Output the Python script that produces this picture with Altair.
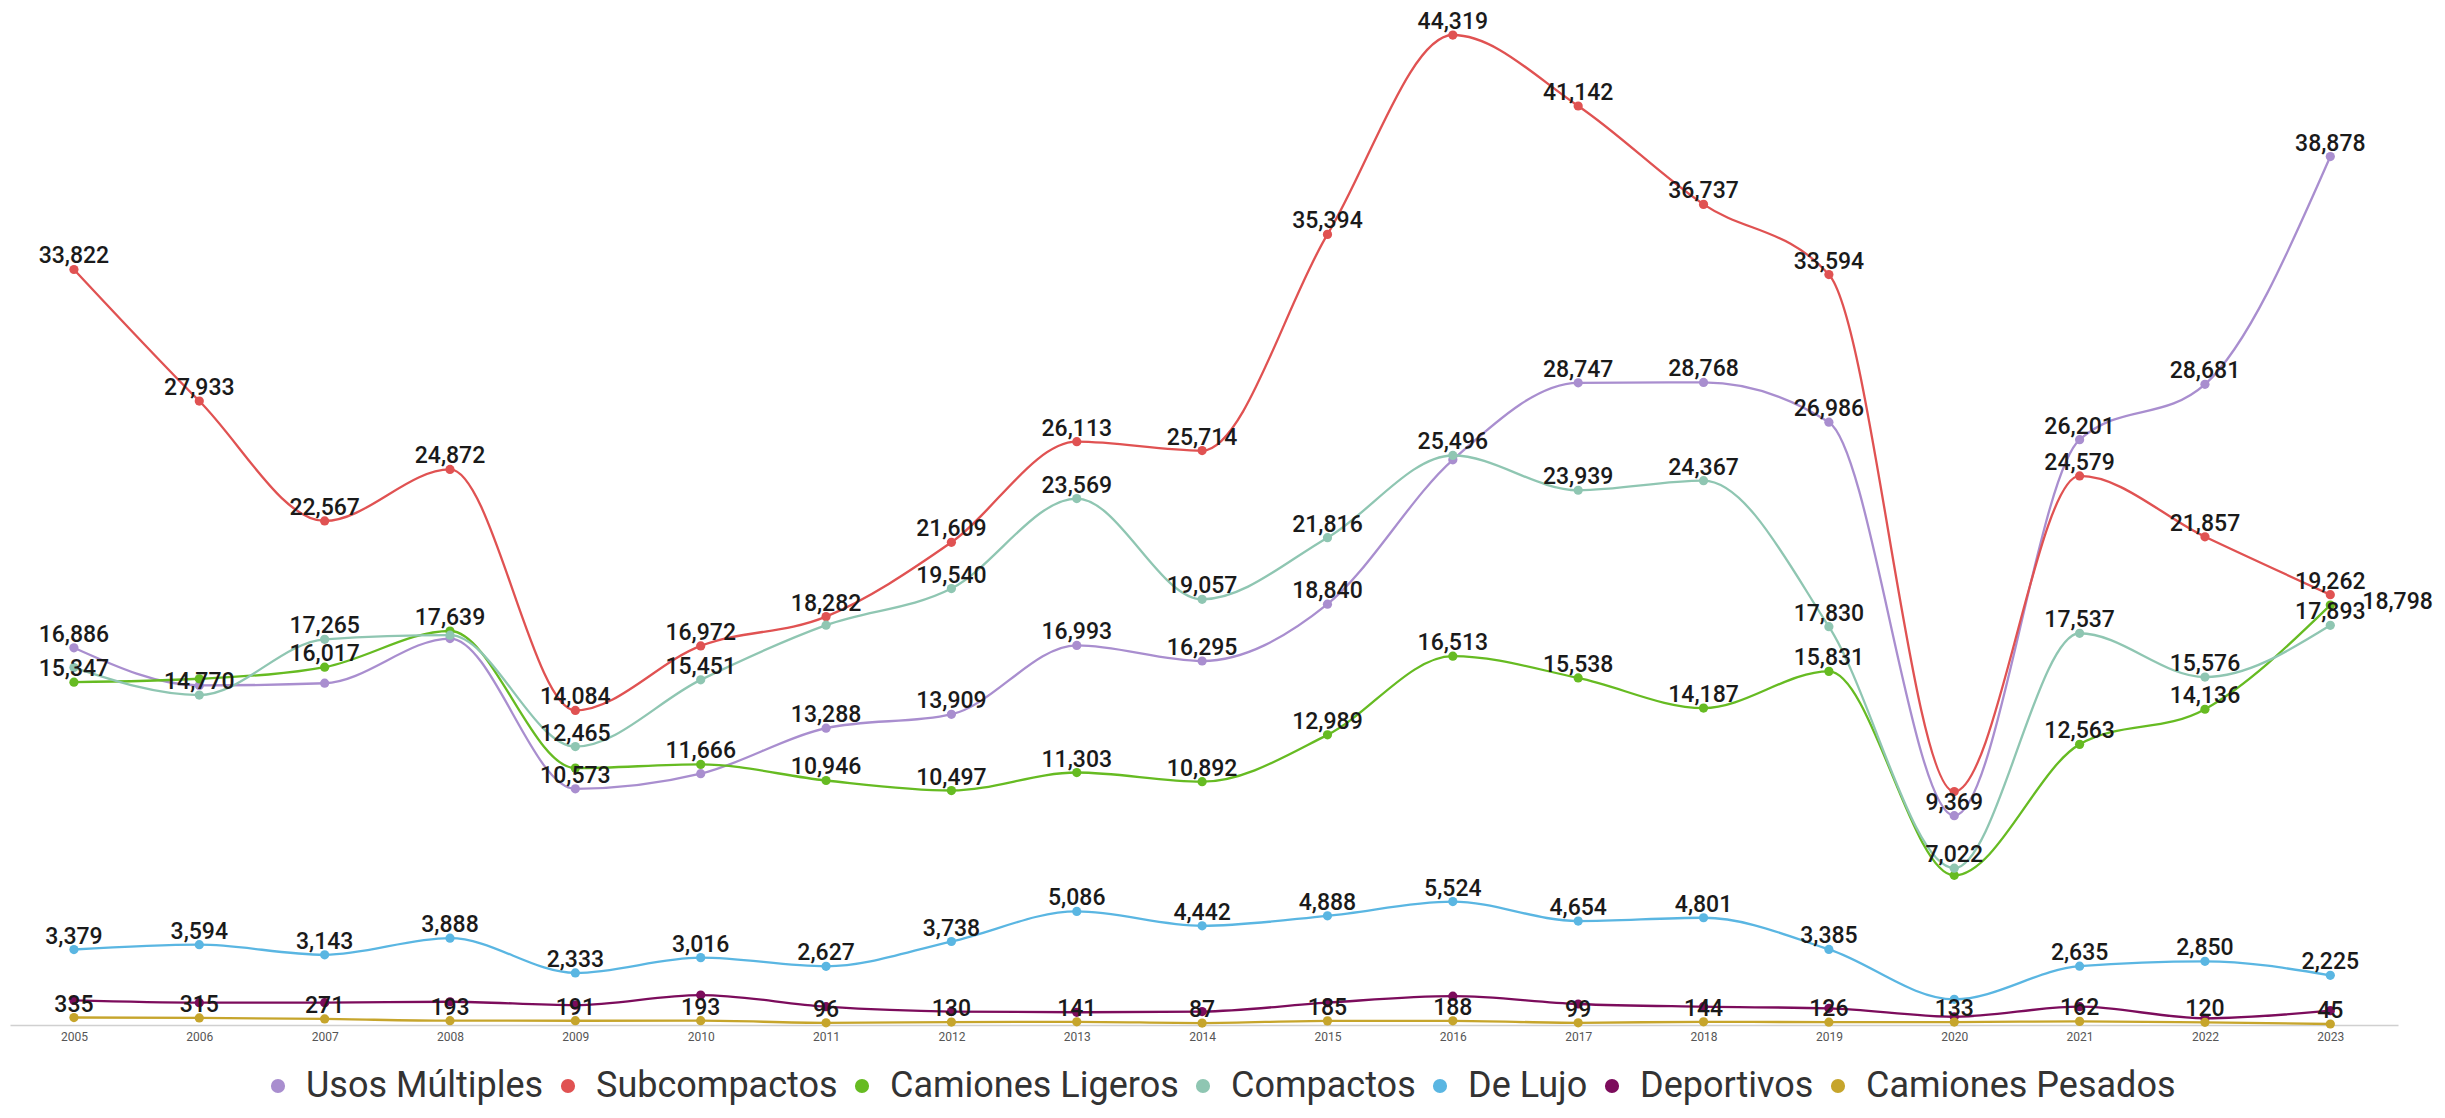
import altair as alt
import pandas as pd

YEARS = list(range(2005, 2024))

SERIES = ["Usos Múltiples", "Subcompactos", "Camiones Ligeros", "Compactos",
          "De Lujo", "Deportivos", "Camiones Pesados"]
COLORS = ["#a98ecf", "#e05252", "#66bb22", "#8fc6b2", "#5ab6e2", "#7c0c5c", "#c6a52c"]

USOS_MULTIPLES = [16886, 15200, 15300, 17300, 10573, 11250, 13288, 13909, 16993, 16295,
                  18840, 25300, 28747, 28768, 26986, 9369, 26201, 28681, 38878]
SUBCOMPACTOS = [33822, 27933, 22567, 24872, 14084, 16972, 18282, 21609, 26113, 25714,
                35394, 44319, 41142, 36737, 33594, 10450, 24579, 21857, 19262]
CAMIONES_LIGEROS = [15347, 15500, 16017, 17639, 11500, 11666, 10946, 10497, 11303, 10892,
                    12989, 16513, 15538, 14187, 15831, 6700, 12563, 14136, 18798]
COMPACTOS = [16000, 14770, 17265, 17450, 12465, 15451, 17900, 19540, 23569, 19057,
             21816, 25496, 23939, 24367, 17830, 7022, 17537, 15576, 17893]
DE_LUJO = [3379, 3594, 3143, 3888, 2333, 3016, 2627, 3738, 5086, 4442,
           4888, 5524, 4654, 4801, 3385, 1150, 2635, 2850, 2225]
DEPORTIVOS = [1100, 1000, 1000, 1040, 890, 1340, 820, 600, 570, 600,
              1000, 1290, 940, 820, 745, 370, 820, 300, 640]
CAMIONES_PESADOS = [335, 315, 271, 193, 191, 193, 96, 130, 141, 87,
                    185, 188, 99, 144, 126, 133, 162, 120, 45]

VALUES = [USOS_MULTIPLES, SUBCOMPACTOS, CAMIONES_LIGEROS, COMPACTOS,
          DE_LUJO, DEPORTIVOS, CAMIONES_PESADOS]

# labels not shown in the original (overlaps)
HIDDEN_LABELS = {
    "Usos Múltiples": [2006, 2007, 2008, 2010, 2016],
    "Subcompactos": [2020],
    "Camiones Ligeros": [2006, 2009, 2020],
    "Compactos": [2005, 2008, 2011],
    "De Lujo": [2020],
    "Deportivos": YEARS,
    "Camiones Pesados": [],
}
RIGHT_LABELS = {"Camiones Ligeros": [2023]}

rows = []
for s, c, vals in zip(SERIES, COLORS, VALUES):
    for y, v in zip(YEARS, vals):
        rows.append({
            "serie": s,
            "color": c,
            "anio": y,
            "valor": v,
            "mostrar": y not in HIDDEN_LABELS.get(s, []),
            "derecha": y in RIGHT_LABELS.get(s, []),
        })
df = pd.DataFrame(rows)

FONT = "Roboto"

x_enc = alt.X("anio:Q",
              scale=alt.Scale(domain=[2004.49, 2023.54], nice=False, zero=False),
              axis=alt.Axis(values=YEARS, format="d", title=None, ticks=False, grid=False,
                            labelFontSize=12, labelColor="#555555", labelFont=FONT,
                            labelPadding=6, domainColor="#d0d0d0", domainWidth=1.5,
                            labelFlush=False))
y_enc = alt.Y("valor:Q", scale=alt.Scale(domain=[0, 45260], nice=False), axis=None)
color_scale = alt.Scale(domain=SERIES, range=COLORS)

base = alt.Chart(df)

lines = base.mark_line(interpolate="monotone", strokeWidth=2.3).encode(
    x=x_enc, y=y_enc,
    stroke=alt.Stroke("color:N", scale=None),
    detail="serie:N",
    order=alt.Order("anio:Q"),
)

points = base.mark_circle(size=85, opacity=1).encode(
    x=x_enc, y=y_enc,
    color=alt.Color("serie:N", scale=color_scale,
                    legend=alt.Legend(title=None, orient="none", direction="horizontal",
                                      legendX=250, legendY=1054,
                                      labelFontSize=36, labelFont=FONT, labelColor="#333333",
                                      symbolType="circle", symbolSize=200,
                                      symbolStrokeWidth=0, labelOffset=10,
                                      columnPadding=6, labelLimit=700)),
)

labels_top = base.transform_filter(
    "datum.mostrar && !datum.derecha"
).mark_text(dy=-13, fontSize=23, fontWeight=500, font=FONT, color="#1a1a1a").encode(
    x=x_enc, y=y_enc, text=alt.Text("valor:Q", format=","),
)

labels_right = base.transform_filter(
    "datum.mostrar && datum.derecha"
).mark_text(dx=32, dy=-3, align="left", fontSize=23, fontWeight=500, font=FONT,
            color="#1a1a1a").encode(
    x=x_enc, y=y_enc, text=alt.Text("valor:Q", format=","),
)

chart = alt.layer(lines, points, labels_top, labels_right).properties(
    width=2388, height=1011,
    autosize=alt.AutoSizeParams(type="none"),
    padding={"left": 2, "top": 6, "right": 39, "bottom": 93},
).configure(background="white").configure_view(stroke=None)

chart.save("out.html", embed_options={"renderer": "svg", "actions": False})
